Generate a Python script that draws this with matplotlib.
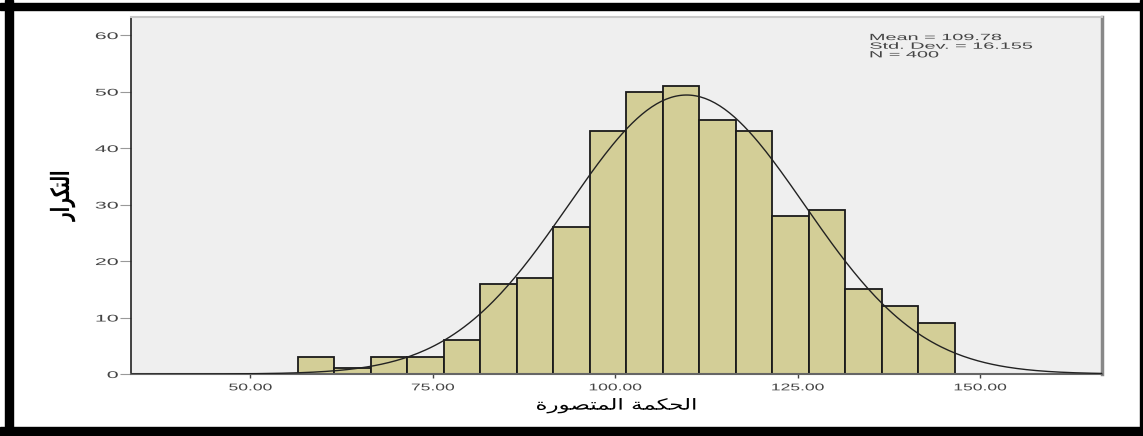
import numpy as np
import matplotlib
matplotlib.use("Agg")
import matplotlib.pyplot as plt
from matplotlib.patches import Rectangle
from matplotlib.patheffects import AbstractPathEffect
from matplotlib.transforms import Affine2D

# histogram bins (width 5) and counts
bin_edges = [56.5, 61.5, 66.5, 71.5, 76.5, 81.5, 86.5, 91.5, 96.5, 101.5,
             106.5, 111.5, 116.5, 121.5, 126.5, 131.5, 136.5, 141.5, 146.5]
counts = [3, 1, 3, 3, 6, 16, 17, 26, 43, 50, 51, 45, 43, 28, 29, 15, 12, 9]

mean = 109.78
std = 16.155
n = 400

xticks = [50, 75, 100, 125, 150]
yticks = [0, 10, 20, 30, 40, 50, 60]

# Arabic labels in presentation forms, visual order (matplotlib has no shaping)
xlabel = "\uFE8D\uFEDF\uFEA4\uFEDC\uFEE4\uFE94 \uFE8D\uFEDF\uFEE4\uFE98\uFEBC\uFEEE\uFEAD\uFE93"[::-1]
ylabel = "\uFE8D\uFEDF\uFE98\uFEDC\uFEAE\uFE8D\uFEAD"[::-1]


class Stretch(AbstractPathEffect):
    """Scale drawn text glyphs about an anchor of their bounding box."""

    def __init__(self, sx=1.0, sy=1.0, anchor='center'):
        super().__init__()
        self.sx, self.sy, self.anchor = sx, sy, anchor

    def draw_path(self, renderer, gc, tpath, affine, rgbFace=None):
        bb = tpath.get_extents(affine)
        ax_ = {'left': bb.x0, 'center': (bb.x0 + bb.x1) / 2, 'right': bb.x1}[self.anchor]
        ay_ = (bb.y0 + bb.y1) / 2
        affine = affine + Affine2D().translate(-ax_, -ay_).scale(self.sx, self.sy).translate(ax_, ay_)
        renderer.draw_path(gc, tpath, affine, rgbFace)


plt.rcParams['font.family'] = ['Liberation Sans', 'DejaVu Sans']

fig = plt.figure(figsize=(11.43, 4.36), dpi=100)
ax = fig.add_axes([0.1143, 0.1422, 0.9641 - 0.1143, 0.961 - 0.1422])
ax.set_facecolor('#efefef')

lefts = np.array(bin_edges[:-1])
widths = np.diff(bin_edges)
ax.bar(lefts, counts, width=widths, align='edge', color='#d3ce97',
       edgecolor='#1a1a1a', linewidth=1.3, zorder=2)

# fitted normal curve scaled to counts
bw = widths[0]
xs = np.linspace(33.6, 166.7, 400)
ys = n * bw * np.exp(-0.5 * ((xs - mean) / std) ** 2) / (std * np.sqrt(2 * np.pi))
ax.plot(xs, ys, color='#222222', linewidth=1.0, zorder=3)

ax.set_xlim(33.6, 166.7)
ax.set_ylim(0, 63.2)
ax.set_xticks(xticks)
ax.set_xticklabels([f"{v:.2f}" for v in xticks], fontsize=7, color='#444444')
ax.set_yticks(yticks)
ax.set_yticklabels([str(v) for v in yticks], fontsize=7, color='#444444')
ax.tick_params(axis='x', length=3, width=1, color='#444444', pad=3)
ax.tick_params(axis='y', length=8, width=0.8, color='#999999', pad=1)

for lbl in ax.get_xticklabels():
    lbl.set_path_effects([Stretch(1.8, 1.0, 'center')])
for lbl in ax.get_yticklabels():
    lbl.set_path_effects([Stretch(2.2, 1.0, 'right')])

ax.spines['left'].set_color('#222222')
ax.spines['left'].set_linewidth(1.2)
ax.spines['bottom'].set_color('#666666')
ax.spines['bottom'].set_linewidth(1.5)
ax.spines['top'].set_color('#c8c8c8')
ax.spines['top'].set_linewidth(1.5)
ax.spines['right'].set_color('#888888')
ax.spines['right'].set_linewidth(2.5)

ax.set_xlabel(xlabel, family=['DejaVu Sans'], fontsize=11, labelpad=4,
              path_effects=[Stretch(1.5, 1.0, 'center')])
ax.set_ylabel(ylabel, family=['DejaVu Sans'], fontsize=14, labelpad=25,
              fontweight='bold', path_effects=[Stretch(1.3, 0.8, 'center')])

ax.text(0.761, 0.955, f"Mean = {mean}\nStd. Dev. = {std}\nN = {n}",
        transform=ax.transAxes, fontsize=6.5, va='top', ha='left',
        linespacing=0.95, color='#444444',
        path_effects=[Stretch(2.2, 1.0, 'left')])

# thick black frame around the figure
W, H = 1143, 436
for (x0, y0, w, h) in [(5, 0, 8, H), (1140, 0, 3, H), (0, 3, W, 7), (0, 427, W, 9)]:
    fig.patches.append(Rectangle((x0 / W, 1 - (y0 + h) / H), w / W, h / H,
                                 transform=fig.transFigure, color='black',
                                 zorder=10))

fig.savefig('out.png', dpi=100, facecolor='white')
